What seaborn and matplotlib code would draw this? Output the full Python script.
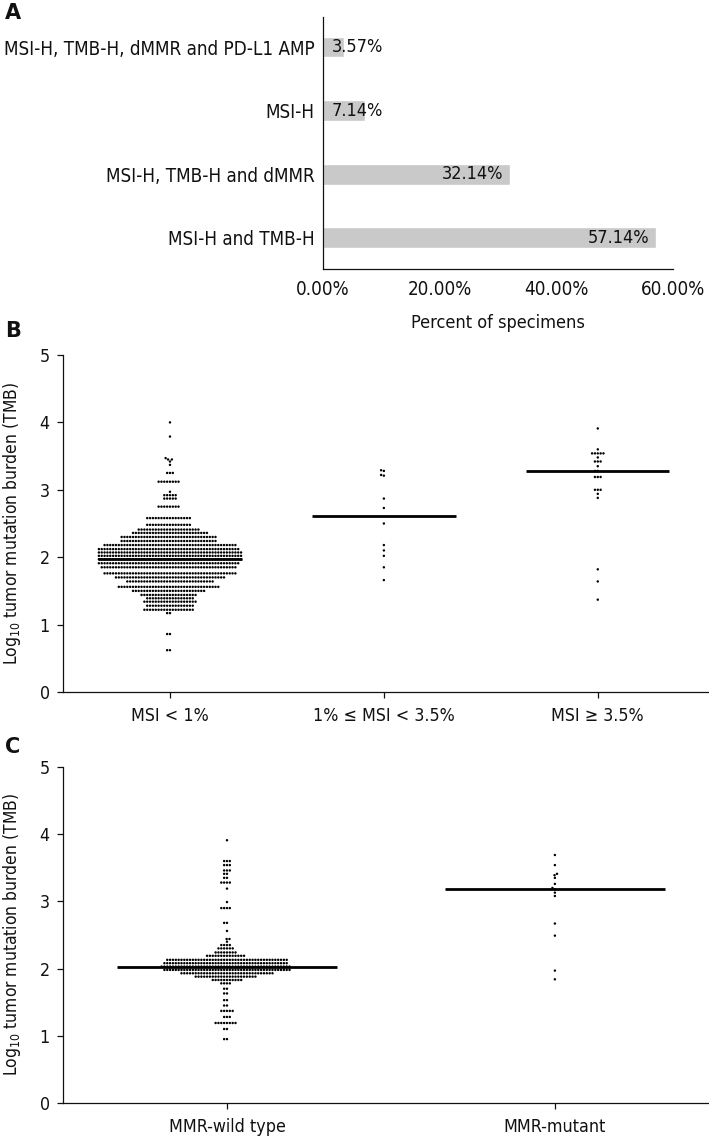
import numpy as np
import pandas as pd
import matplotlib
matplotlib.use("Agg")
import matplotlib.pyplot as plt
from matplotlib import font_manager
import seaborn as sns

# ---------------------------
# Data
# ---------------------------
# A: combinations of biomarkers
combo_labels = [
    "MSI-H, TMB-H, dMMR and PD-L1 AMP",
    "MSI-H",
    "MSI-H, TMB-H and dMMR",
    "MSI-H and TMB-H",
]
combo_pct = [3.57, 7.14, 32.14, 57.14]

# B: log10 TMB by MSI group (big group given as row level + number of dots)
msi_groups = ["MSI < 1%", "1% \u2264 MSI < 3.5%", "MSI \u2265 3.5%"]
msi_low_levels = [4.00, 3.79, 3.47, 3.45, 3.42, 3.37, 3.25, 3.12, 2.97, 2.92,
                  2.87, 2.75, 2.58, 2.48, 2.41, 2.36, 2.30, 2.24, 2.18, 2.12,
                  2.07, 2.02, 1.97, 1.91, 1.85, 1.76, 1.70, 1.64, 1.56, 1.50,
                  1.44, 1.39, 1.34, 1.28, 1.22, 1.17, 0.86, 0.62]
msi_low_counts = [1, 1, 1, 2, 1, 1, 3, 8, 1, 5,
                  5, 8, 16, 16, 22, 27, 34, 34, 47, 50,
                  51, 51, 51, 50, 48, 47, 39, 31, 36, 26,
                  20, 17, 19, 17, 18, 2, 2, 2]
msi_mid_tmb = [3.29, 3.28, 3.22, 3.21, 2.87, 2.73, 2.50, 2.18, 2.10, 2.02, 1.85, 1.66]
msi_high_tmb = [3.91, 3.60, 3.54, 3.54, 3.54, 3.54, 3.54, 3.48, 3.42, 3.42, 3.42,
                3.35, 3.28, 3.28, 3.19, 3.19, 3.19, 3.00, 3.00, 3.00, 2.94, 2.88,
                1.82, 1.64, 1.37]

# C: log10 TMB by MMR status
mmr_groups = ["MMR-wild type", "MMR-mutant"]
mmr_wt_levels = [3.91, 3.60, 3.54, 3.46, 3.41, 3.35, 3.28, 3.19, 2.99, 2.90,
                 2.68, 2.56, 2.44, 2.40, 2.35, 2.30, 2.24, 2.19, 2.13, 2.08,
                 2.03, 1.98, 1.93, 1.88, 1.83, 1.78, 1.70, 1.63, 1.53, 1.45,
                 1.37, 1.28, 1.19, 1.10, 0.95]
mmr_wt_counts = [1, 3, 3, 3, 2, 2, 4, 1, 1, 4,
                 2, 1, 2, 1, 4, 6, 8, 14, 43, 44,
                 46, 45, 33, 22, 11, 4, 2, 2, 2, 2,
                 5, 3, 8, 2, 2]
mmr_mut_tmb = [3.69, 3.54, 3.41, 3.39, 3.35, 3.26, 3.20, 3.18, 3.13, 3.08,
               2.67, 2.49, 1.97, 1.84]

# ---------------------------
# Style: the original uses a narrow Arial, look for a condensed face
# ---------------------------
sns.set_theme(style="ticks")
fonts = font_manager.fontManager.ttflist
main_font, stretch, scale = "Liberation Sans", "normal", 0.93
for f in fonts:
    if f.name in ("Liberation Sans Narrow", "Arial Narrow"):
        main_font, stretch, scale = f.name, "normal", 1.1
        break
else:
    for f in fonts:
        if f.name == "DejaVu Sans" and f.stretch == "condensed" and f.weight in (400, "normal"):
            main_font, stretch, scale = "DejaVu Sans", "condensed", 1.0
            break

plt.rcParams["font.family"] = [main_font, "DejaVu Sans"]
plt.rcParams["font.stretch"] = stretch
plt.rcParams["mathtext.fontset"] = "custom"
plt.rcParams["mathtext.rm"] = main_font
plt.rcParams["mathtext.default"] = "regular"
plt.rcParams["axes.linewidth"] = 0.9
plt.rcParams["axes.edgecolor"] = "#111111"
for key in ["text.color", "axes.labelcolor", "xtick.color", "ytick.color"]:
    plt.rcParams[key] = "#111111"

FS_CAT = 13.5 * scale    # category / tick labels of panel A
FS_BAR = 13.0 * scale    # bar value labels
FS_XLAB = 13.0 * scale
FS_TICK = 12.8 * scale   # ticks of panels B, C
FS_YLAB = 12.5 * scale

dot_kw = dict(color="black", size=1.75, linewidth=0.2, edgecolor="none")
median_kw = dict(
    showbox=False, showcaps=False, showfliers=False,
    whiskerprops={"visible": False},
    medianprops={"color": "black", "linewidth": 2.0, "zorder": 5},
    width=0.67,
)

fig = plt.figure(figsize=(7.09, 11.40), dpi=100)

# ---------------------------
# A. horizontal bars
# ---------------------------
ax_a = fig.add_axes([0.4556, 0.764, 0.4934, 0.221])
df_a = pd.DataFrame({"combo": combo_labels, "pct": combo_pct})
sns.barplot(data=df_a, x="pct", y="combo", order=combo_labels, orient="h",
            color="#c9c9c9", saturation=1, width=0.33, ax=ax_a)
for i, v in enumerate(combo_pct):
    if v > 15:
        ax_a.annotate(f"{v:.2f}%", (v, i), xytext=(-5, 0), textcoords="offset points",
                      ha="right", va="center", fontsize=FS_BAR, color="#111111")
    else:
        ax_a.annotate(f"{v:.2f}%", (0, i), xytext=(6.5, 0), textcoords="offset points",
                      ha="left", va="center", fontsize=FS_BAR, color="#111111")
ax_a.set_xlim(0, 60)
ax_a.set_ylim(3.49, -0.47)
ax_a.set_xticks([0, 20, 40, 60])
ax_a.set_xticklabels([f"{t:.2f}%" for t in [0, 20, 40, 60]])
ax_a.tick_params(axis="both", length=0, labelsize=FS_CAT)
ax_a.tick_params(axis="x", pad=8)
ax_a.tick_params(axis="y", pad=6)
ax_a.set_xlabel("Percent of specimens", fontsize=FS_XLAB, labelpad=11)
ax_a.set_ylabel("")
sns.despine(ax=ax_a)

# ---------------------------
# B and C. swarms with median lines
# ---------------------------
df_b = pd.DataFrame({
    "group": [msi_groups[0]] * int(np.sum(msi_low_counts))
             + [msi_groups[1]] * len(msi_mid_tmb)
             + [msi_groups[2]] * len(msi_high_tmb),
    "tmb": np.concatenate([np.repeat(msi_low_levels, msi_low_counts),
                           msi_mid_tmb, msi_high_tmb]),
})
df_c = pd.DataFrame({
    "group": [mmr_groups[0]] * int(np.sum(mmr_wt_counts))
             + [mmr_groups[1]] * len(mmr_mut_tmb),
    "tmb": np.concatenate([np.repeat(mmr_wt_levels, mmr_wt_counts), mmr_mut_tmb]),
})

ax_b = fig.add_axes([0.0889, 0.393, 0.9111, 0.2956])
ax_c = fig.add_axes([0.0889, 0.0325, 0.9111, 0.2947])

for ax, df, order, xmax in [(ax_b, df_b, msi_groups, 2.52), (ax_c, df_c, mmr_groups, 1.47)]:
    sns.swarmplot(data=df, x="group", y="tmb", order=order, ax=ax, **dot_kw)
    sns.boxplot(data=df, x="group", y="tmb", order=order, ax=ax, **median_kw)
    ax.set_xlim(-0.5, xmax)
    ax.set_ylim(0, 5)
    ax.set_yticks(range(6))
    ax.tick_params(axis="both", labelsize=FS_TICK, width=0.9, color="#111111")
    ax.tick_params(axis="y", length=4.5, pad=5)
    ax.tick_params(axis="x", length=4.5, pad=6)
    ax.set_xlabel("")
    ax.set_ylabel("Log$_{10}$ tumor mutation burden (TMB)", fontsize=FS_YLAB)
    ax.yaxis.set_label_coords(-0.062, 0.5)
    sns.despine(ax=ax)

# panel letters
for letter, y in [("A", 0.989), ("B", 0.7096), ("C", 0.3447)]:
    fig.text(0.007, y, letter, fontsize=15, fontweight="bold", va="center", ha="left",
             fontstretch="normal")

fig.savefig("out.png", dpi=100)
